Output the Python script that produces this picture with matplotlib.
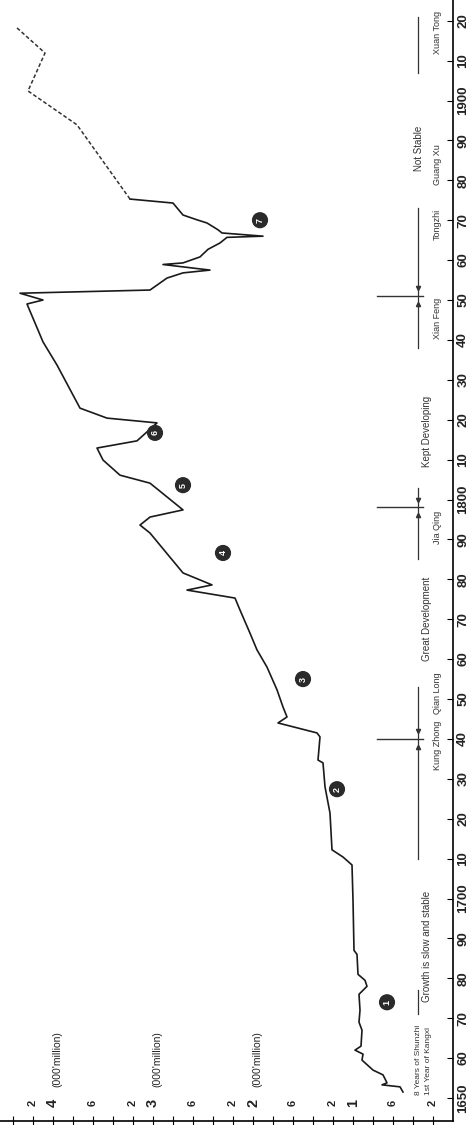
import numpy as np
import matplotlib.pyplot as plt
from matplotlib.transforms import blended_transform_factory

plt.rcParams['font.family'] = ['Liberation Sans', 'DejaVu Sans']

# population curve, hundred million people (official records), solid part
years_solid = [1651.5, 1652.8, 1653.3, 1653.8, 1655.8, 1657.0, 1659.5, 1661.0, 1662.0, 1663.0,
               1667.0, 1669.0, 1672.0, 1676.0, 1678.0, 1679.5, 1681.0, 1686.0, 1687.0, 1699.6,
               1708.4, 1710.4, 1712.2, 1721.4, 1728.0, 1734.0, 1734.7, 1740.5, 1741.5, 1744.0,
               1745.5, 1748.0, 1752.3, 1758.0, 1762.3, 1766.5, 1772.3, 1775.3, 1777.3, 1778.6,
               1781.6, 1791.6, 1793.6, 1795.6, 1797.4, 1804.1, 1806.1, 1809.9, 1812.9, 1814.7,
               1819.2, 1820.4, 1822.9, 1833.7, 1839.5, 1849.0, 1850.0, 1851.7, 1852.5, 1855.5,
               1856.8, 1857.5, 1858.9, 1859.3, 1860.8, 1862.7, 1864.3, 1865.7, 1866.0, 1866.8,
               1867.6, 1869.3, 1870.1, 1871.3, 1874.3, 1875.3]
pop_solid = [0.50, 0.53, 0.71, 0.66, 0.70, 0.80, 0.91, 0.90, 0.98, 0.92,
             0.91, 0.94, 0.93, 0.94, 0.86, 0.88, 0.95, 0.96, 0.99, 1.00,
             1.01, 1.10, 1.21, 1.23, 1.28, 1.30, 1.35, 1.33, 1.36, 1.75,
             1.66, 1.70, 1.76, 1.86, 1.96, 2.03, 2.13, 2.18, 2.66, 2.41,
             2.70, 3.03, 3.13, 3.03, 2.70, 3.03, 3.33, 3.50, 3.56, 3.16,
             2.96, 3.46, 3.73, 3.96, 4.10, 4.26, 4.10, 4.33, 3.03, 2.86,
             2.70, 2.43, 2.90, 2.70, 2.53, 2.45, 2.33, 2.26, 1.90, 2.31,
             2.35, 2.46, 2.56, 2.70, 2.80, 3.23]
# estimated part (dashed)
years_dash = [1875.3, 1893.9, 1902.4, 1911.9, 1918.2]
pop_dash = [3.23, 3.76, 4.25, 4.08, 4.36]

# circled notes
note_nums = ['1', '2', '3', '4', '5', '6', '7']
note_years = [1674.0, 1727.4, 1755.0, 1786.6, 1803.6, 1816.7, 1870.0]
note_pops = [0.66, 1.16, 1.50, 2.30, 2.70, 2.98, 1.93]

# periods and reigns
era_names = ['Growth is slow and stable', 'Great Development', 'Kept Developing', 'Not Stable']
era_years = [1688, 1770, 1817, 1888]
reign_names = ['Kung Zhong', 'Qian Long', 'Jia Qing', 'Xian Feng', 'Tongzhi', 'Guang Xu', 'Xuan Tong']
reign_years = [1738.5, 1751.5, 1793, 1845.5, 1869, 1884, 1917]
divider_years = [1740, 1798, 1851]
rule_spans = [(1671, 1677), (1710, 1753), (1785, 1803), (1838, 1873), (1907, 1921)]

# axis ticks
pop_ticks = np.arange(0.2, 4.41, 0.2)
pop_label_vals = [0.2, 0.6, 1.0, 1.2, 1.6, 2.0, 2.2, 2.6, 3.0, 3.2, 3.6, 4.0, 4.2]
pop_label_txt = ['2', '6', '1', '2', '6', '2', '2', '6', '3', '2', '6', '4', '2']
unit_vals = [2, 3, 4]
year_ticks = np.arange(1650, 1921, 10)
year_labels = [str(y) if (y == 1650 or y % 100 == 0) else str(y)[2:] for y in year_ticks]

fig = plt.figure(figsize=(4.72, 11.25), dpi=100)
ax = fig.add_axes([0, 4 / 1125, 453 / 472, 1121 / 1125])
ax.set_xlim(4.53, 0)
ax.set_ylim(1644.24, 1925.19)

ax.plot(pop_solid, years_solid, color='#1a1a1a', lw=1.2)
ax.plot(pop_dash, years_dash, color='#333333', lw=1.1, ls=(0, (2.5, 1.5)))

for s in ['left', 'top']:
    ax.spines[s].set_visible(False)
for s in ['bottom', 'right']:
    ax.spines[s].set_linewidth(1.2)

# population axis (bottom), labels sit inside
ax.set_xticks(pop_ticks)
ax.set_xticklabels([])
ax.tick_params(axis='x', direction='inout', length=7, width=0.8)
trans = blended_transform_factory(ax.transData, ax.transAxes)
for v, t in zip(pop_label_vals, pop_label_txt):
    big = abs(v - round(v)) < 1e-6
    ax.text(v, 0.016, t, transform=trans, rotation=90, ha='center', va='center',
            fontsize=10.5 if big else 8, fontweight='bold', color='#222222')
for v in unit_vals:
    ax.text(v - 0.04, 0.03, "(000'million)", transform=trans, rotation=90,
            ha='center', va='bottom', fontsize=7.5, color='#222222')

# year axis (right)
ax.yaxis.tick_right()
ax.set_yticks(year_ticks)
ax.set_yticklabels(year_labels, rotation=90, va='center', fontsize=9.5,
                   fontweight='bold', color='#222222')
ax.tick_params(axis='y', direction='in', length=4, width=0.8, pad=3)

# circled notes
for n, y, p in zip(note_nums, note_years, note_pops):
    ax.text(p, y, n, rotation=90, ha='center', va='center', color='white',
            fontsize=6.5, fontweight='bold',
            bbox=dict(boxstyle='circle,pad=0.32', fc='#2a2a2a', ec='#2a2a2a'))

# period brackets
for a, b in rule_spans:
    ax.plot([0.35, 0.35], [a, b], color='#333333', lw=0.9)
for d in divider_years:
    ax.plot([0.76, 0.30], [d, d], color='#333333', lw=1.0)
    ax.plot([0.35], [d - 2], marker='^', ms=3, color='#333333')
    ax.plot([0.35], [d + 2], marker='v', ms=3, color='#333333')

for name, y in zip(era_names, era_years):
    x = 0.34 if name == 'Not Stable' else 0.26
    ax.text(x, y, name, rotation=90, ha='center', va='center', fontsize=7, color='#333333')
for name, y in zip(reign_names, reign_years):
    ax.text(0.16, y, name, rotation=90, ha='center', va='center', fontsize=6.5, color='#333333')
ax.text(0.34, 1650.8, '8 Years of Shunzhi', rotation=90, ha='center', va='bottom',
        fontsize=6, color='#333333')
ax.text(0.24, 1650.8, '1st Year of Kangxi', rotation=90, ha='center', va='bottom',
        fontsize=6, color='#333333')

fig.savefig('out.png', dpi=100)
